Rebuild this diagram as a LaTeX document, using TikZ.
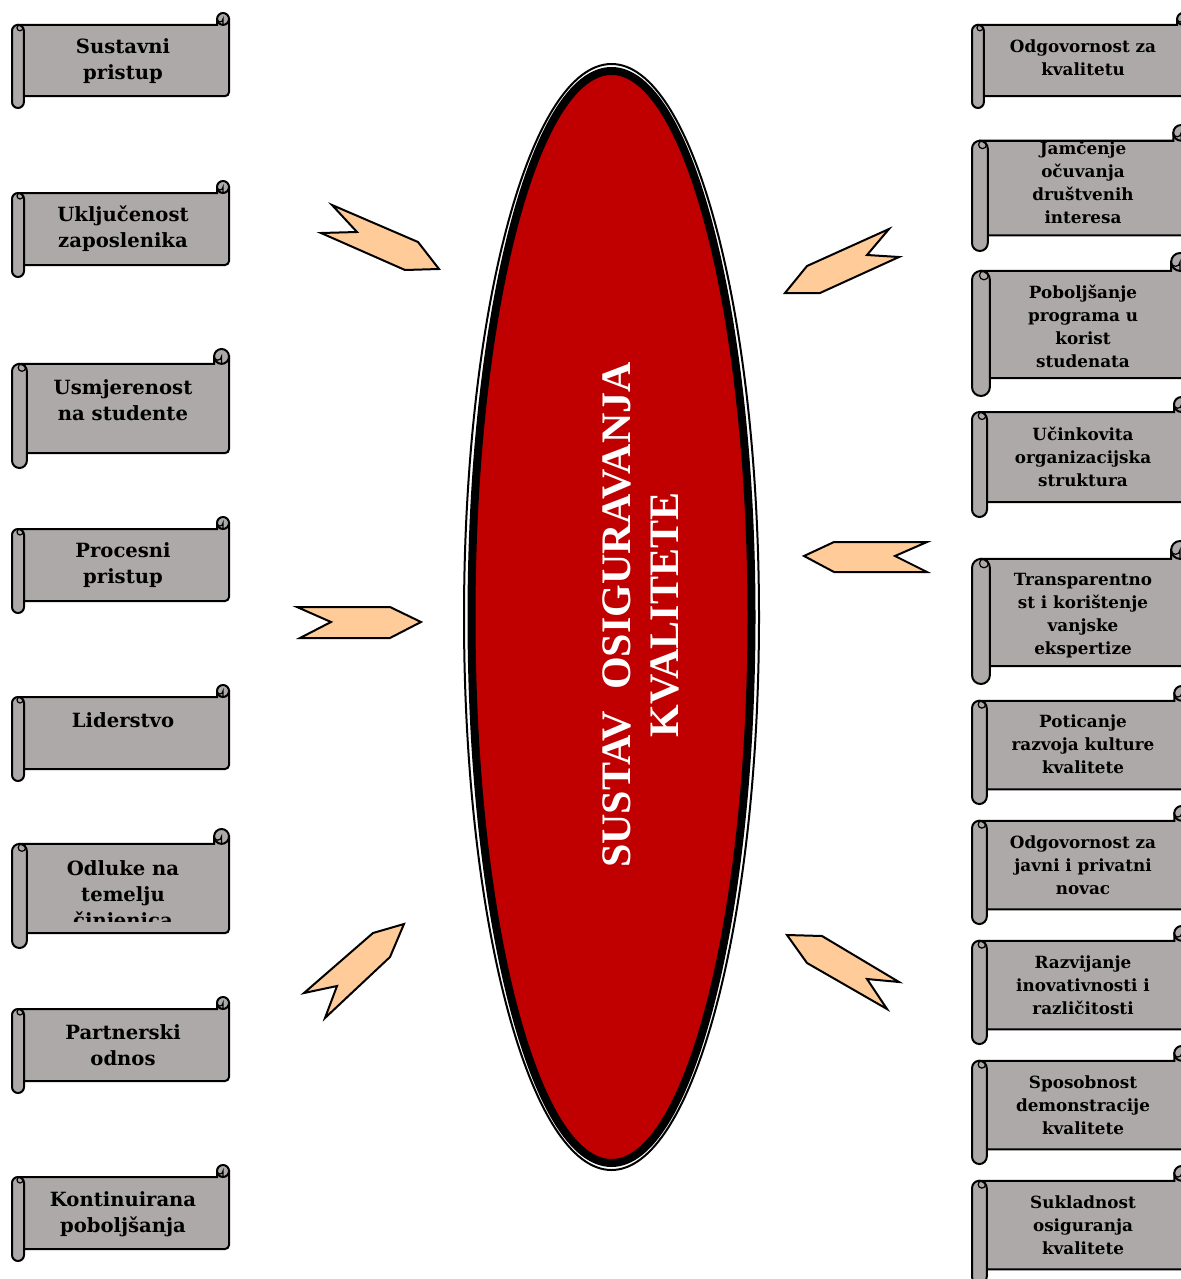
\documentclass[tikz,border=0pt]{standalone}
\usepackage{fontspec}
\newfontfamily\scrollfont{DejaVu Serif}
\newfontfamily\corefont{Liberation Serif}
\usepackage{tikz}
\usepackage{xcolor}

\definecolor{scrollgray}{RGB}{173,169,169}
\definecolor{peach}{RGB}{255,204,153}
\definecolor{corered}{RGB}{192,0,0}

% #1 name, #2 left x, #3 top of curl, #4 bottom of roll, #5 text y, #6 text style, #7 text, #8 cut above lower edge
\newcommand{\scrollbox}[8]{%
  \pgfmathsetmacro{\scrc}{(#4-#3)/8}%
  \pgfmathsetmacro{\scrh}{\scrc/2}%
  \pgfmathsetmacro{\scrr}{#2+217}%
  \pgfmathsetmacro{\scrrad}{\scrh*0.5}%
  % banner and top right curl
  \draw[scrollpart] (#2+\scrh,#3+\scrc) -- (\scrr-\scrc,#3+\scrc) -- (\scrr-\scrc,#3+\scrh) -- (\scrr,#3+\scrh) [rounded corners=2pt] -- (\scrr,#4-\scrc) -- (#2+\scrh,#4-\scrc) [sharp corners] -- cycle;
  \draw[scrollpart] (\scrr-\scrh,#3+\scrh) circle[radius=\scrh];
  \draw[scrollline] (\scrr-\scrh,#3+\scrc) -- (\scrr-\scrh,#3+\scrh) arc[start angle=0, end angle=180, radius=\scrh/2];
  % left roll
  \draw[scrollpart, rounded corners=\scrrad pt] (#2,#3+\scrc) rectangle (#2+\scrc,#4);
  \draw[scrollline] (#2+\scrh+\scrh/3,#3+\scrc+\scrh/2) circle[radius=\scrh/2];
  % text, cut off at the lower edge
  \begin{scope}
    \clip (#2+\scrc,#3+\scrc) rectangle (\scrr,#4-\scrc-#8);
    \node[#6] (#1) at (#2+111,#5) {#7};
  \end{scope}
}

\begin{document}
\begin{tikzpicture}[x=0.5pt, y=-0.5pt,
    scrollpart/.style={draw=black, line width=1pt, fill=scrollgray},
    scrollline/.style={draw=black, line width=0.6pt},
    lefttext/.style={font=\scrollfont\bfseries\fontsize{9.8}{13}\selectfont, align=center, inner sep=0pt},
    righttext/.style={font=\scrollfont\bfseries\fontsize{8.4}{11.5}\selectfont, align=center, inner sep=0pt},
    chevron/.style={draw=black, line width=1pt, fill=peach, line join=miter},
    coretext/.style={text=white, align=center, inner sep=0pt, font=\corefont\bfseries\fontsize{21}{24}\selectfont}]
    \useasboundingbox (0,0) rectangle (1181,1279);

    % Central ellipse
    \fill[corered] (611.5,617) ellipse[x radius=140, y radius=546];
    \draw[line width=4pt] (611.5,617) ellipse[x radius=140, y radius=546];
    \draw[line width=1pt] (611.5,617) ellipse[x radius=147.5, y radius=553];
    \node[coretext, rotate=90] (core) at (641,615) {SUSTAV~~OSIGURAVANJA\\KVALITETE};

    % Chevrons pointing to the ellipse
    \draw[chevron] (332,205) -- (418,242) -- (439,269) -- (405,270) -- (321,233) -- (357,232) -- cycle;
    \draw[chevron] (889,229) -- (807,266) -- (785,293) -- (820,293) -- (899,257) -- (867,255) -- cycle;
    \draw[chevron] (297,607) -- (390,607) -- (421,622) -- (390,638) -- (300,638) -- (331,622) -- cycle;
    \draw[chevron] (804,556) -- (834,542) -- (927,542) -- (895,556) -- (927,572) -- (834,572) -- cycle;
    \draw[chevron] (373,933) -- (404,924) -- (390,957) -- (325,1018) -- (337,986) -- (304,993) -- cycle;
    \draw[chevron] (787,935) -- (822,936) -- (899,982) -- (867,979) -- (887,1009) -- (807,963) -- cycle;

    % Left column of scrolls
    \scrollbox{sustavni}{12}{13}{108}{61.5}{lefttext}{Sustavni\\pristup}{6}
    \scrollbox{ukljucenost}{12}{181}{277}{229}{lefttext}{Uključenost\\zaposlenika}{6}
    \scrollbox{usmjerenost}{12}{349}{468}{400}{lefttext}{Usmjerenost\\na studente}{6}
    \scrollbox{procesni}{12}{517}{613}{565.5}{lefttext}{Procesni\\pristup}{6}
    \scrollbox{liderstvo}{12}{685}{781}{720}{lefttext}{Liderstvo}{6}
    \scrollbox{odluke}{12}{829}{948}{896}{lefttext}{Odluke na\\temelju\\činjenica}{12}
    \scrollbox{partnerski}{12}{997}{1093}{1045}{lefttext}{Partnerski\\odnos}{6}
    \scrollbox{kontinuirana}{12}{1165}{1261}{1214.5}{lefttext}{Kontinuirana\\poboljšanja}{6}

    % Right column of scrolls
    \scrollbox{odgovornost}{972}{13}{108}{58}{righttext}{Odgovornost za\\kvalitetu}{6}
    \scrollbox{jamcenje}{972}{125}{251}{182.5}{righttext}{Jamčenje\\očuvanja\\društvenih\\interesa}{6}
    \scrollbox{poboljsanje}{972}{253}{396}{326.5}{righttext}{Poboljšanje\\programa u\\korist\\studenata}{6}
    \scrollbox{ucinkovita}{972}{397}{517}{456.5}{righttext}{Učinkovita\\organizacijska\\struktura}{6}
    \scrollbox{transparentnost}{972}{541}{684}{616}{righttext}{Transparentno\\st i korištenje\\vanjske\\ekspertize}{6}
    \scrollbox{poticanje}{972}{686}{804}{744.5}{righttext}{Poticanje\\razvoja kulture\\kvalitete}{6}
    \scrollbox{novac}{972}{806}{924}{865}{righttext}{Odgovornost za\\javni i privatni\\novac}{6}
    \scrollbox{razvijanje}{972}{926}{1044}{985}{righttext}{Razvijanje\\inovativnosti i\\različitosti}{6}
    \scrollbox{sposobnost}{972}{1046}{1164}{1105}{righttext}{Sposobnost\\demonstracije\\kvalitete}{6}
    \scrollbox{sukladnost}{972}{1166}{1284}{1225}{righttext}{Sukladnost\\osiguranja\\kvalitete}{6}
\end{tikzpicture}
\end{document}
